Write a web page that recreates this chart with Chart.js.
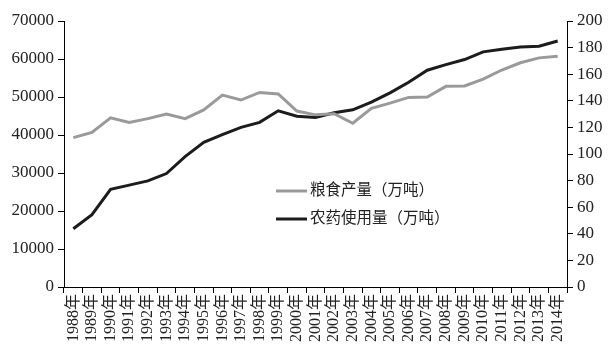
<!DOCTYPE html>
<html>
<head>
<meta charset="utf-8">
<script src="https://cdn.jsdelivr.net/npm/chart.js@4/dist/chart.umd.min.js"></script>
<style>
  html, body { margin: 0; padding: 0; background: #fff; }
  #wrap { position: relative; width: 610px; height: 356px; }
</style>
</head>
<body>
<div id="wrap"><canvas id="myChart" width="610" height="356"></canvas></div>
<script>
// 年份
const years = [
    "1988年", "1989年", "1990年", "1991年", "1992年", "1993年", "1994年",
    "1995年", "1996年", "1997年", "1998年", "1999年", "2000年", "2001年",
    "2002年", "2003年", "2004年", "2005年", "2006年", "2007年", "2008年",
    "2009年", "2010年", "2011年", "2012年", "2013年", "2014年"
];

// 粮食产量（万吨）- 左轴
const grain = [
    39300, 40700, 44500, 43300, 44300, 45500, 44300,
    46600, 50500, 49200, 51200, 50800, 46300, 45300,
    45600, 43100, 47000, 48400, 49900, 50000, 52800,
    52900, 54700, 57100, 59000, 60300, 60700
];

// 农药使用量（万吨）- 右轴
const pesticide = [
    43.8, 54.4, 73.5, 76.6, 79.8, 85.3, 98.0,
    108.8, 114.5, 120.0, 123.8, 132.5, 128.4, 127.4,
    131.0, 133.2, 139.0, 146.0, 154.0, 163.0, 167.2,
    171.0, 176.8, 178.8, 180.4, 181.0, 185.0
];

const leftTicks = [0, 10000, 20000, 30000, 40000, 50000, 60000, 70000];
const rightTicks = [0, 20, 40, 60, 80, 100, 120, 140, 160, 180, 200];

const GREY = "#9a9a9a";
const BLACK = "#1c1c1c";
const NUM_FONT = "'Liberation Serif', 'DejaVu Serif', serif";
const CJK_FONT = "'Liberation Serif', 'Noto Sans CJK SC', serif";

// 图例画在图中间
const legendPlugin = {
    id: "innerLegend",
    afterDraw(chart) {
        const ctx = chart.ctx;
        const items = [
            { text: "粮食产量（万吨）", color: GREY, y: 191 },
            { text: "农药使用量（万吨）", color: BLACK, y: 219 }
        ];
        ctx.save();
        ctx.font = "15.5px " + CJK_FONT;
        ctx.textBaseline = "middle";
        items.forEach(it => {
            ctx.strokeStyle = it.color;
            ctx.lineWidth = 3;
            ctx.beginPath();
            ctx.moveTo(276, it.y);
            ctx.lineTo(307, it.y);
            ctx.stroke();
            ctx.fillStyle = "#222";
            ctx.fillText(it.text, 310, it.y);
        });
        ctx.restore();
    }
};

new Chart(document.getElementById("myChart"), {
    type: "line",
    data: {
        labels: years,
        datasets: [
            {
                label: "粮食产量（万吨）",
                data: grain,
                yAxisID: "y",
                borderColor: GREY,
                borderWidth: 3,
                pointRadius: 0,
                tension: 0
            },
            {
                label: "农药使用量（万吨）",
                data: pesticide,
                yAxisID: "y1",
                borderColor: BLACK,
                borderWidth: 3,
                pointRadius: 0,
                tension: 0
            }
        ]
    },
    options: {
        responsive: false,
        animation: false,
        layout: { padding: { top: 21, bottom: 0, left: 0, right: 0 } },
        plugins: {
            legend: { display: false },
            tooltip: { enabled: false }
        },
        scales: {
            x: {
                offset: true,
                grid: {
                    offset: true,
                    drawOnChartArea: false,
                    drawTicks: true,
                    tickLength: 6,
                    color: "#000"
                },
                border: { color: "#000", width: 1 },
                ticks: {
                    autoSkip: false,
                    maxRotation: 90,
                    minRotation: 90,
                    padding: 1,
                    color: "#222",
                    font: { family: CJK_FONT, size: 16 }
                },
                afterFit(scale) { scale.height = 69; }
            },
            y: {
                position: "left",
                min: 0,
                max: 70000,
                afterBuildTicks(scale) {
                    scale.ticks = leftTicks.map(v => ({ value: v }));
                },
                grid: {
                    drawOnChartArea: false,
                    tickLength: 6,
                    color: "#000"
                },
                border: { color: "#000", width: 1 },
                ticks: {
                    padding: 4,
                    color: "#222",
                    font: { family: NUM_FONT, size: 17 },
                    callback: v => String(v)
                },
                afterFit(scale) { scale.width = 64; }
            },
            y1: {
                position: "right",
                min: 0,
                max: 200,
                afterBuildTicks(scale) {
                    scale.ticks = rightTicks.map(v => ({ value: v }));
                },
                grid: {
                    drawOnChartArea: false,
                    tickLength: 6,
                    color: "#000"
                },
                border: { color: "#000", width: 1 },
                ticks: {
                    padding: 4,
                    color: "#222",
                    font: { family: NUM_FONT, size: 17 },
                    callback: v => String(v)
                },
                afterFit(scale) { scale.width = 43; }
            }
        }
    },
    plugins: [legendPlugin]
});
</script>
</body>
</html>
